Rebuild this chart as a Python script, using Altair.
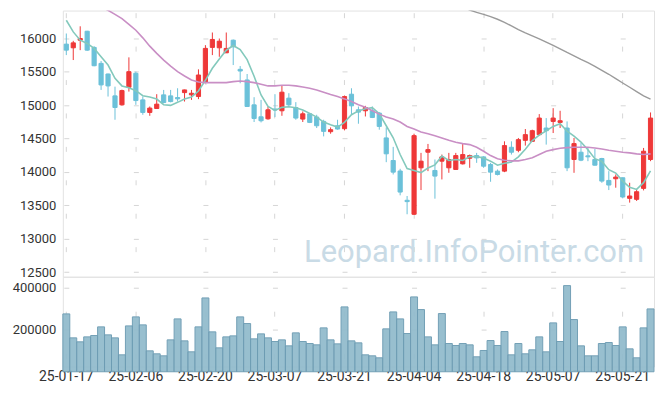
import altair as alt
import pandas as pd

dates = ["25-01-17","25-01-20","25-01-21","25-01-22","25-01-23","25-01-24","25-01-31",
"25-02-03","25-02-04","25-02-05","25-02-06","25-02-07","25-02-10","25-02-11","25-02-12","25-02-13","25-02-14","25-02-17","25-02-18","25-02-19","25-02-20","25-02-21","25-02-24","25-02-25","25-02-26","25-02-27","25-02-28",
"25-03-04","25-03-05","25-03-06","25-03-07","25-03-10","25-03-11","25-03-12","25-03-13","25-03-14","25-03-17","25-03-18","25-03-19","25-03-20","25-03-21","25-03-24","25-03-25","25-03-26","25-03-27","25-03-28","25-03-31",
"25-04-01","25-04-02","25-04-03","25-04-04","25-04-07","25-04-08","25-04-09","25-04-10","25-04-11","25-04-14","25-04-15","25-04-16","25-04-17","25-04-18","25-04-21","25-04-22","25-04-23","25-04-24","25-04-25","25-04-28","25-04-29","25-04-30",
"25-05-02","25-05-07","25-05-08","25-05-09","25-05-12","25-05-13","25-05-14","25-05-15","25-05-16","25-05-19","25-05-20","25-05-21","25-05-22","25-05-23","25-05-26","25-05-27"]

opens = [15911,15856,15970,16104,15862,15623,15464,15137,15003,15266,15475,15077,14889,14948,15152,15137,15112,15186,15152,15127,
         15341,15862,15856,15781,15970,15534,15375,15003,14824,14794,14940,14914,15103,14963,14790,14869,14820,14755,14601,14690,
         14646,15162,14929,14914,14914,14879,14508,14170,14013,13575,13366,14061,14294,14021,14160,14061,14036,14120,14204,14244,
         14224,14110,14011,14011,14368,14323,14472,14457,14557,14656,14755,14740,14656,14185,14294,14240,14185,14200,13872,13897,
         13912,13604,13589,13753,14185]
highs = [16070,15960,16178,16110,15880,15658,15470,15275,15230,15713,15500,15127,14978,15162,15226,15226,15251,15230,15226,15534,
         15896,16085,15995,16085,15980,15583,15464,15117,15077,14978,15162,15286,15177,15043,14904,14879,14854,14780,14665,14780,
         15142,15251,14978,14988,14978,14894,14665,14374,14046,13639,14571,14284,14418,14185,14259,14284,14284,14418,14259,14284,
         14234,14135,14036,14457,14457,14507,14641,14631,14864,14805,14953,14914,14755,14507,14433,14358,14343,14210,14011,13961,
         13915,13837,13738,14358,14889]
lows = [15747,15673,15821,15810,15580,15226,15127,14780,14990,15201,15003,14854,14839,14943,15028,15040,15052,15052,15077,15088,
        15326,15747,15722,15781,15598,15326,14978,14746,14740,14780,14820,14839,14978,14780,14746,14730,14656,14531,14571,14631,
        14621,14854,14720,14829,14805,14631,14145,13961,13649,13366,13356,13728,14011,13599,13887,13986,14036,14110,14061,14135,
        14061,13852,13947,13996,14259,14294,14393,14452,14542,14408,14581,14656,14011,13986,14160,14160,14095,13837,13728,13763,
        13604,13540,13565,13723,14160]
closes = [15821,15930,15995,15821,15588,15301,15286,14963,15216,15499,15067,14889,14954,15013,15037,15052,15092,15226,15176,15449,
          15847,15981,15955,15847,15871,15509,14978,14799,14765,14929,14925,15192,15003,14805,14869,14740,14690,14606,14631,14641,
          15127,14988,14894,14963,14814,14680,14270,13996,13698,13555,14542,14160,14333,13937,14224,14185,14244,14259,14244,14209,
          14085,13996,13961,14393,14294,14482,14557,14616,14805,14616,14805,14765,14061,14423,14175,14225,14100,13862,13803,13922,
          13624,13639,13703,14309,14805]
volumes = [274100,160600,141700,165300,171600,212600,174800,160600,80200,217300,259900,222100,99100,85000,75500,151100,250400,146400,94400,212600,
           349700,189000,113300,165300,170000,259900,228400,155900,179500,160600,143300,151100,122800,184300,143300,133800,127500,207900,151100,132200,
           307200,146400,137000,80200,75500,66100,203200,283500,250400,181100,354500,294600,165300,127500,275700,133800,124400,133800,127500,70800,
           100700,148000,124400,190600,80200,133800,85000,103900,165300,94400,231500,143300,408100,247300,122800,75500,75500,133800,138500,124400,
           212600,108600,66100,207900,297700]
ma5 = [16268,16094,15970,15921,15847,15722,15598,15400,15286,15260,15215,15140,15120,15090,15005,14995,15040,15090,15120,15210,
       15370,15550,15690,15820,15890,15830,15680,15430,15150,14980,14920,14965,14975,14960,14925,14875,14820,14745,14705,14670,
       14740,14855,14912,14945,14960,14870,14690,14510,14260,14050,14020,13990,14058,14105,14235,14170,14185,14170,14230,14228,
       14208,14160,14100,14130,14146,14225,14337,14468,14551,14615,14680,14721,14610,14534,14446,14330,14197,14157,14033,13982,
       13862,13770,13738,13839,14016]
ma20 = [16750,16700,16650,16590,16530,16470,16417,16357,16293,16208,16119,16005,15881,15772,15673,15583,15499,15435,15375,15345,
        15335,15335,15335,15335,15350,15360,15350,15335,15311,15286,15286,15296,15296,15286,15271,15251,15226,15192,15157,15127,
        15092,15052,15003,14968,14914,14864,14820,14790,14745,14680,14640,14596,14571,14542,14507,14472,14442,14423,14408,14368,
        14309,14244,14195,14175,14165,14165,14185,14210,14259,14309,14333,14353,14363,14368,14368,14368,14358,14343,14323,14309,
        14294,14284,14269,14259,14269]
ma60 = [None] * 57 + [16470,16421,16387,16357,16323,16283,16238,16183,16129,16079,16034,15990,15940,15891,15841,15787,15737,15683,
                      15633,15579,15519,15460,15395,15330,15266,15201,15137,15088]

label_dates = ["25-01-17","25-02-06","25-02-20","25-03-07","25-03-21","25-04-04","25-04-18","25-05-07","25-05-21"]
price_ticks = [12500,13000,13500,14000,14500,15000,15500,16000]
volume_ticks = [200000,400000]
watermark = ["Leopard.InfoPointer.com"]

for arr in (opens, highs, lows, closes, volumes, ma5, ma20, ma60):
    assert len(arr) == len(dates), len(arr)

df = pd.DataFrame({"date": dates, "open": opens, "high": highs, "low": lows, "close": closes,
                   "volume": volumes, "ma5": ma5, "ma20": ma20, "ma60": ma60})
df["dir"] = ["up" if c >= o else "down" for o, c in zip(opens, closes)]

W = 593
H1 = 267
H2 = 90
PRICE_DOM = [12431, 16413]
VOL_DOM = [25000, 450000]
RED = "#ee3838"
BLUE = "#6bc1d9"
GRID = "#d6d6d6"

step = W / len(dates)
xperiod = step * 10
xdash = [5, xperiod - 5]
xoff = xperiod - (step / 2 - 2.5)

pp = H1 / (PRICE_DOM[1] - PRICE_DOM[0]) * 500
d0 = (price_ticks[0] - PRICE_DOM[0]) * H1 / (PRICE_DOM[1] - PRICE_DOM[0])
ydash1 = [5, pp - 5]
yoff1 = pp - (d0 - 2.5)

vp = H2 / (VOL_DOM[1] - VOL_DOM[0]) * 200000
v0 = (volume_ticks[0] - VOL_DOM[0]) * H2 / (VOL_DOM[1] - VOL_DOM[0])
ydash2 = [5, vp - 5]
yoff2 = vp - (v0 - 2.5)

xscale = alt.Scale(type="band", domain=dates, paddingInner=0, paddingOuter=0)
color = alt.Color("dir:N", scale=alt.Scale(domain=["up", "down"], range=[RED, BLUE]), legend=None)

x_top = alt.X("date:O", sort=None, scale=xscale, title=None,
              axis=alt.Axis(values=label_dates, labels=False, ticks=False, domain=False, grid=True,
                            gridColor=GRID, gridDash=ydash1, gridDashOffset=yoff1,
                            labelPadding=0, minExtent=0, maxExtent=0))
y_price_axis = alt.Axis(values=price_ticks, format="d", labelOverlap=False, ticks=False, domain=False,
                        grid=True, gridColor=GRID, gridDash=xdash, gridDashOffset=xoff,
                        labelPadding=7, minExtent=54, maxExtent=54, labelFontSize=13)
price_scale = alt.Scale(domain=PRICE_DOM, nice=False, zero=False)

base = alt.Chart(df)

mark_text = alt.Chart(pd.DataFrame({"t": watermark})).mark_text(
    align="right", baseline="alphabetic", fontSize=31, font="Roboto", color="#c9dbe6"
).encode(text="t:N", x=alt.value(W - 10), y=alt.value(252))

wicks = base.mark_rule(strokeWidth=1).encode(
    x=x_top,
    y=alt.Y("low:Q", scale=price_scale, axis=y_price_axis, title=None),
    y2="high:Q",
    color=color,
)
bodies = base.mark_bar(width=alt.RelativeBandSize(0.6), strokeWidth=1).encode(
    x=x_top,
    y=alt.Y("open:Q", scale=price_scale, axis=y_price_axis, title=None),
    y2="close:Q",
    color=color,
    stroke=color,
)
line5 = base.mark_line(color="#83c9bc", strokeWidth=1.6, clip=True).encode(
    x=x_top, y=alt.Y("ma5:Q", scale=price_scale, axis=y_price_axis, title=None))
line20 = base.mark_line(color="#c98fc5", strokeWidth=1.6, clip=True).encode(
    x=x_top, y=alt.Y("ma20:Q", scale=price_scale, axis=y_price_axis, title=None))
line60 = base.transform_filter("isValid(datum.ma60)").mark_line(color="#9b9b9b", strokeWidth=1.4, clip=True).encode(
    x=x_top, y=alt.Y("ma60:Q", scale=price_scale, axis=y_price_axis, title=None))

price = alt.layer(mark_text, wicks, bodies, line5, line20, line60).properties(width=W, height=H1)

x_bot = alt.X("date:O", sort=None, scale=xscale, title=None,
              axis=alt.Axis(values=label_dates, labelAngle=0, ticks=False, domain=False, grid=True,
                            gridColor=GRID, gridDash=ydash2, gridDashOffset=yoff2, labelPadding=3,
                            labelFontSize=14))
vol = base.mark_bar(color="#93bccd", stroke="#6c9cb3", strokeWidth=1, opacity=0.95).encode(
    x=x_bot,
    y=alt.Y("volume:Q", scale=alt.Scale(domain=VOL_DOM, nice=False, zero=False),
            axis=alt.Axis(values=volume_ticks, format="d", labelOverlap=False, ticks=False, domain=False,
                          grid=True, gridColor=GRID, gridDash=xdash, gridDashOffset=xoff, labelPadding=7,
                          minExtent=54, maxExtent=54, labelFontSize=13), title=None),
).properties(width=W, height=H2)

chart = alt.vconcat(price, vol, spacing=0, bounds="flush").properties(
    padding={"left": 0, "top": 1, "right": 2, "bottom": 2}
).configure_view(stroke="#e2e2e2").configure_axis(
    labelFont="Roboto", labelColor="#333333", labelOverlap=False
)

chart.save("out.html", embed_options={"renderer": "svg", "actions": False})
